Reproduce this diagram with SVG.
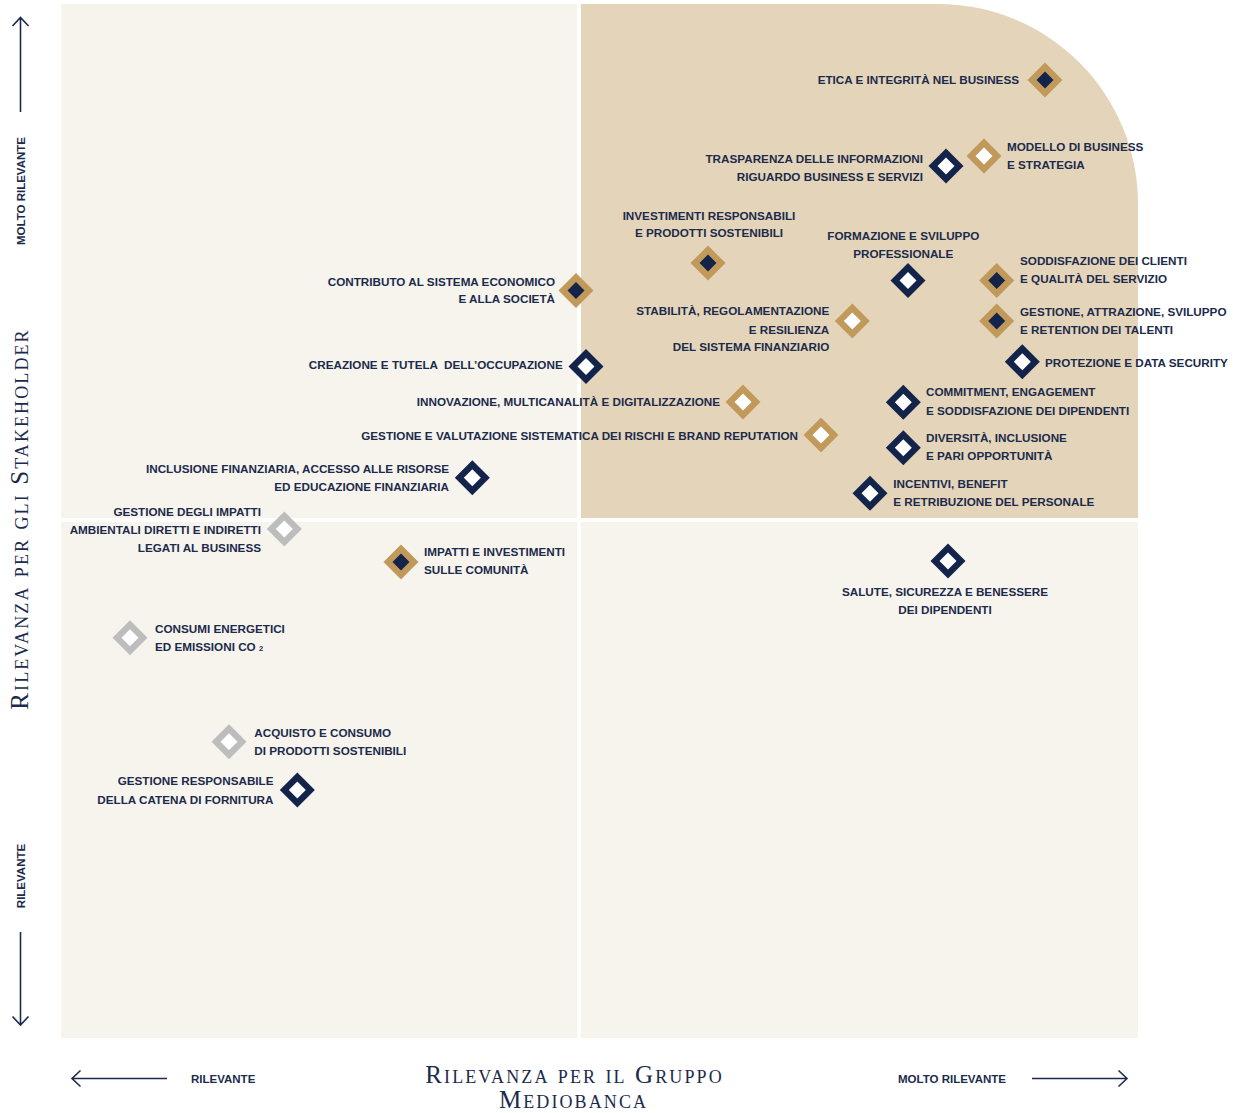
<svg xmlns="http://www.w3.org/2000/svg" xmlns:xlink="http://www.w3.org/1999/xlink" width="1233" height="1113" viewBox="0 0 1233 1113">
<style>
.bg-c{fill:#f7f4ee}
.bg-t{fill:#e4d5ba}
.lbl{font-family:"Liberation Sans",Arial,sans-serif;font-weight:bold;font-size:11.7px;fill:#1c2b4b}
.ax{font-family:"Liberation Sans",Arial,sans-serif;font-weight:bold;font-size:11.5px;fill:#1c2b4b}
.ttl{font-family:"Liberation Serif","Times New Roman",serif;font-variant:small-caps;font-size:25px;letter-spacing:2.1px;fill:#1c2b4b}
.arr{fill:none;stroke:#1c2b4b;stroke-width:1.6}
.e{text-anchor:end}
.m{text-anchor:middle}
</style>
<defs>
<polygon id="outer" points="0,-17.5 17.5,0 0,17.5 -17.5,0"/>
<polygon id="inner" points="0,-8.5 8.5,0 0,8.5 -8.5,0"/>
<g id="gn"><use xlink:href="#outer" fill="#c19a5b"/><use xlink:href="#inner" fill="#13234a"/></g>
<g id="gw"><use xlink:href="#outer" fill="#c19a5b"/><use xlink:href="#inner" fill="#ffffff"/></g>
<g id="nw"><use xlink:href="#outer" fill="#13234a"/><use xlink:href="#inner" fill="#ffffff"/></g>
<g id="sw"><use xlink:href="#outer" fill="#bdbdbd"/><use xlink:href="#inner" fill="#ffffff"/></g>
</defs>

<g id="background">
<rect class="bg-c" x="61" y="4" width="516" height="514"/>
<path class="bg-t" d="M581,4 H938 A200,200 0 0 1 1138,204 V518 H581 Z"/>
<rect class="bg-c" x="61" y="522" width="516" height="516"/>
<rect class="bg-c" x="581" y="522" width="557" height="516"/>
</g>

<g id="axes">
<path class="arr" d="M20.5,112 V17.5 M12.5,26 L20.5,17.5 L28.5,26"/>
<path class="arr" d="M20.5,932 V1025 M12.5,1016.5 L20.5,1025 L28.5,1016.5"/>
<path class="arr" d="M167,1078.5 H72 M80.5,1070.5 L72,1078.5 L80.5,1086.5"/>
<path class="arr" d="M1032,1078.5 H1127 M1118.5,1070.5 L1127,1078.5 L1118.5,1086.5"/>
<text class="ax m" transform="translate(25,191) rotate(-90)">MOLTO RILEVANTE</text>
<text class="ax m" transform="translate(25,876) rotate(-90)">RILEVANTE</text>
<text class="ttl m" transform="translate(28,519) rotate(-90)">Rilevanza per gli Stakeholder</text>
<text class="ax" x="191" y="1082.8">RILEVANTE</text>
<text class="ax" x="898" y="1083.2">MOLTO RILEVANTE</text>
<text class="ttl m"><tspan x="574.5" y="1083.3">Rilevanza per il Gruppo</tspan><tspan x="573.5" y="1108.3">Mediobanca</tspan></text>
</g>

<g id="connectors"></g>

<g id="n1"><use xlink:href="#gn" x="1045" y="80"/><text class="lbl e" x="1019" y="84.2">ETICA E INTEGRITÀ NEL BUSINESS</text></g>
<g id="n2"><use xlink:href="#gw" x="984" y="156"/><text class="lbl" x="1007" y="150.5">MODELLO DI BUSINESS</text><text class="lbl" x="1007" y="168.7">E STRATEGIA</text></g>
<g id="n3"><use xlink:href="#nw" x="946" y="166"/><text class="lbl e" x="923" y="163.2">TRASPARENZA DELLE INFORMAZIONI</text><text class="lbl e" x="923" y="181.2">RIGUARDO BUSINESS E SERVIZI</text></g>
<g id="n4"><use xlink:href="#gn" x="708" y="263"/><text class="lbl m" x="709" y="220">INVESTIMENTI RESPONSABILI</text><text class="lbl m" x="709" y="236.7">E PRODOTTI SOSTENIBILI</text></g>
<g id="n5"><use xlink:href="#nw" x="908" y="280.5"/><text class="lbl m" x="903.3" y="239.5">FORMAZIONE E SVILUPPO</text><text class="lbl m" x="903.3" y="257.8">PROFESSIONALE</text></g>
<g id="n6"><use xlink:href="#gn" x="996.7" y="280.5"/><text class="lbl" x="1020" y="265.2">SODDISFAZIONE DEI CLIENTI</text><text class="lbl" x="1020" y="282.7">E QUALITÀ DEL SERVIZIO</text></g>
<g id="n7"><use xlink:href="#gn" x="576" y="290.5"/><text class="lbl e" x="555" y="285.7">CONTRIBUTO AL SISTEMA ECONOMICO</text><text class="lbl e" x="555" y="303">E ALLA SOCIETÀ</text></g>
<g id="n8"><use xlink:href="#gw" x="852.3" y="321"/><text class="lbl e" x="829.3" y="315.4">STABILITÀ, REGOLAMENTAZIONE</text><text class="lbl e" x="829.3" y="333.7">E RESILIENZA</text><text class="lbl e" x="829.3" y="350.5">DEL SISTEMA FINANZIARIO</text></g>
<g id="n9"><use xlink:href="#gn" x="996.7" y="321"/><text class="lbl" x="1020" y="315.5">GESTIONE, ATTRAZIONE, SVILUPPO</text><text class="lbl" x="1020" y="333.9">E RETENTION DEI TALENTI</text></g>
<g id="n10"><use xlink:href="#nw" x="1022.3" y="361.7"/><text class="lbl" x="1045" y="366.9">PROTEZIONE E DATA SECURITY</text></g>
<g id="n11"><use xlink:href="#nw" x="586" y="366.5"/><text class="lbl e" x="562.7" y="368.9" xml:space="preserve">CREAZIONE E TUTELA  DELL’OCCUPAZIONE</text></g>
<g id="n12"><use xlink:href="#nw" x="903.3" y="402.3"/><text class="lbl" x="926" y="396.4">COMMITMENT, ENGAGEMENT</text><text class="lbl" x="926" y="414.7">E SODDISFAZIONE DEI DIPENDENTI</text></g>
<g id="n13"><use xlink:href="#gw" x="743" y="402"/><text class="lbl e" x="720" y="406.2">INNOVAZIONE, MULTICANALITÀ E DIGITALIZZAZIONE</text></g>
<g id="n14"><use xlink:href="#gw" x="821" y="435"/><text class="lbl e" x="798" y="439.5">GESTIONE E VALUTAZIONE SISTEMATICA DEI RISCHI E BRAND REPUTATION</text></g>
<g id="n15"><use xlink:href="#nw" x="903.3" y="447.7"/><text class="lbl" x="926" y="442">DIVERSITÀ, INCLUSIONE</text><text class="lbl" x="926" y="460.2">E PARI OPPORTUNITÀ</text></g>
<g id="n16"><use xlink:href="#nw" x="472.3" y="477.7"/><text class="lbl e" x="449" y="472.9">INCLUSIONE FINANZIARIA, ACCESSO ALLE RISORSE</text><text class="lbl e" x="449" y="490.5">ED EDUCAZIONE FINANZIARIA</text></g>
<g id="n17"><use xlink:href="#nw" x="870" y="493.3"/><text class="lbl" x="893.3" y="488">INCENTIVI, BENEFIT</text><text class="lbl" x="893.3" y="506">E RETRIBUZIONE DEL PERSONALE</text></g>
<g id="n18"><use xlink:href="#sw" x="284.3" y="529"/><text class="lbl e" x="261" y="515.9">GESTIONE DEGLI IMPATTI</text><text class="lbl e" x="261" y="534.2">AMBIENTALI DIRETTI E INDIRETTI</text><text class="lbl e" x="261" y="551.9">LEGATI AL BUSINESS</text></g>
<g id="n19"><use xlink:href="#gn" x="401" y="562"/><text class="lbl" x="424" y="556.2">IMPATTI E INVESTIMENTI</text><text class="lbl" x="424" y="574.2">SULLE COMUNITÀ</text></g>
<g id="n20"><use xlink:href="#nw" x="948" y="561"/><text class="lbl m" x="945" y="596.2">SALUTE, SICUREZZA E BENESSERE</text><text class="lbl m" x="945" y="614.2">DEI DIPENDENTI</text></g>
<g id="n21"><use xlink:href="#sw" x="130" y="637.7"/><text class="lbl" x="155" y="632.9">CONSUMI ENERGETICI</text><text class="lbl" x="155" y="651.2">ED EMISSIONI CO <tspan font-size="7.5">2</tspan></text></g>
<g id="n22"><use xlink:href="#sw" x="229" y="741.7"/><text class="lbl" x="254.3" y="737">ACQUISTO E CONSUMO</text><text class="lbl" x="254.3" y="755">DI PRODOTTI SOSTENIBILI</text></g>
<g id="n23"><use xlink:href="#nw" x="297.3" y="790"/><text class="lbl e" x="273.5" y="785.4">GESTIONE RESPONSABILE</text><text class="lbl e" x="273.5" y="803.7">DELLA CATENA DI FORNITURA</text></g>
</svg>
